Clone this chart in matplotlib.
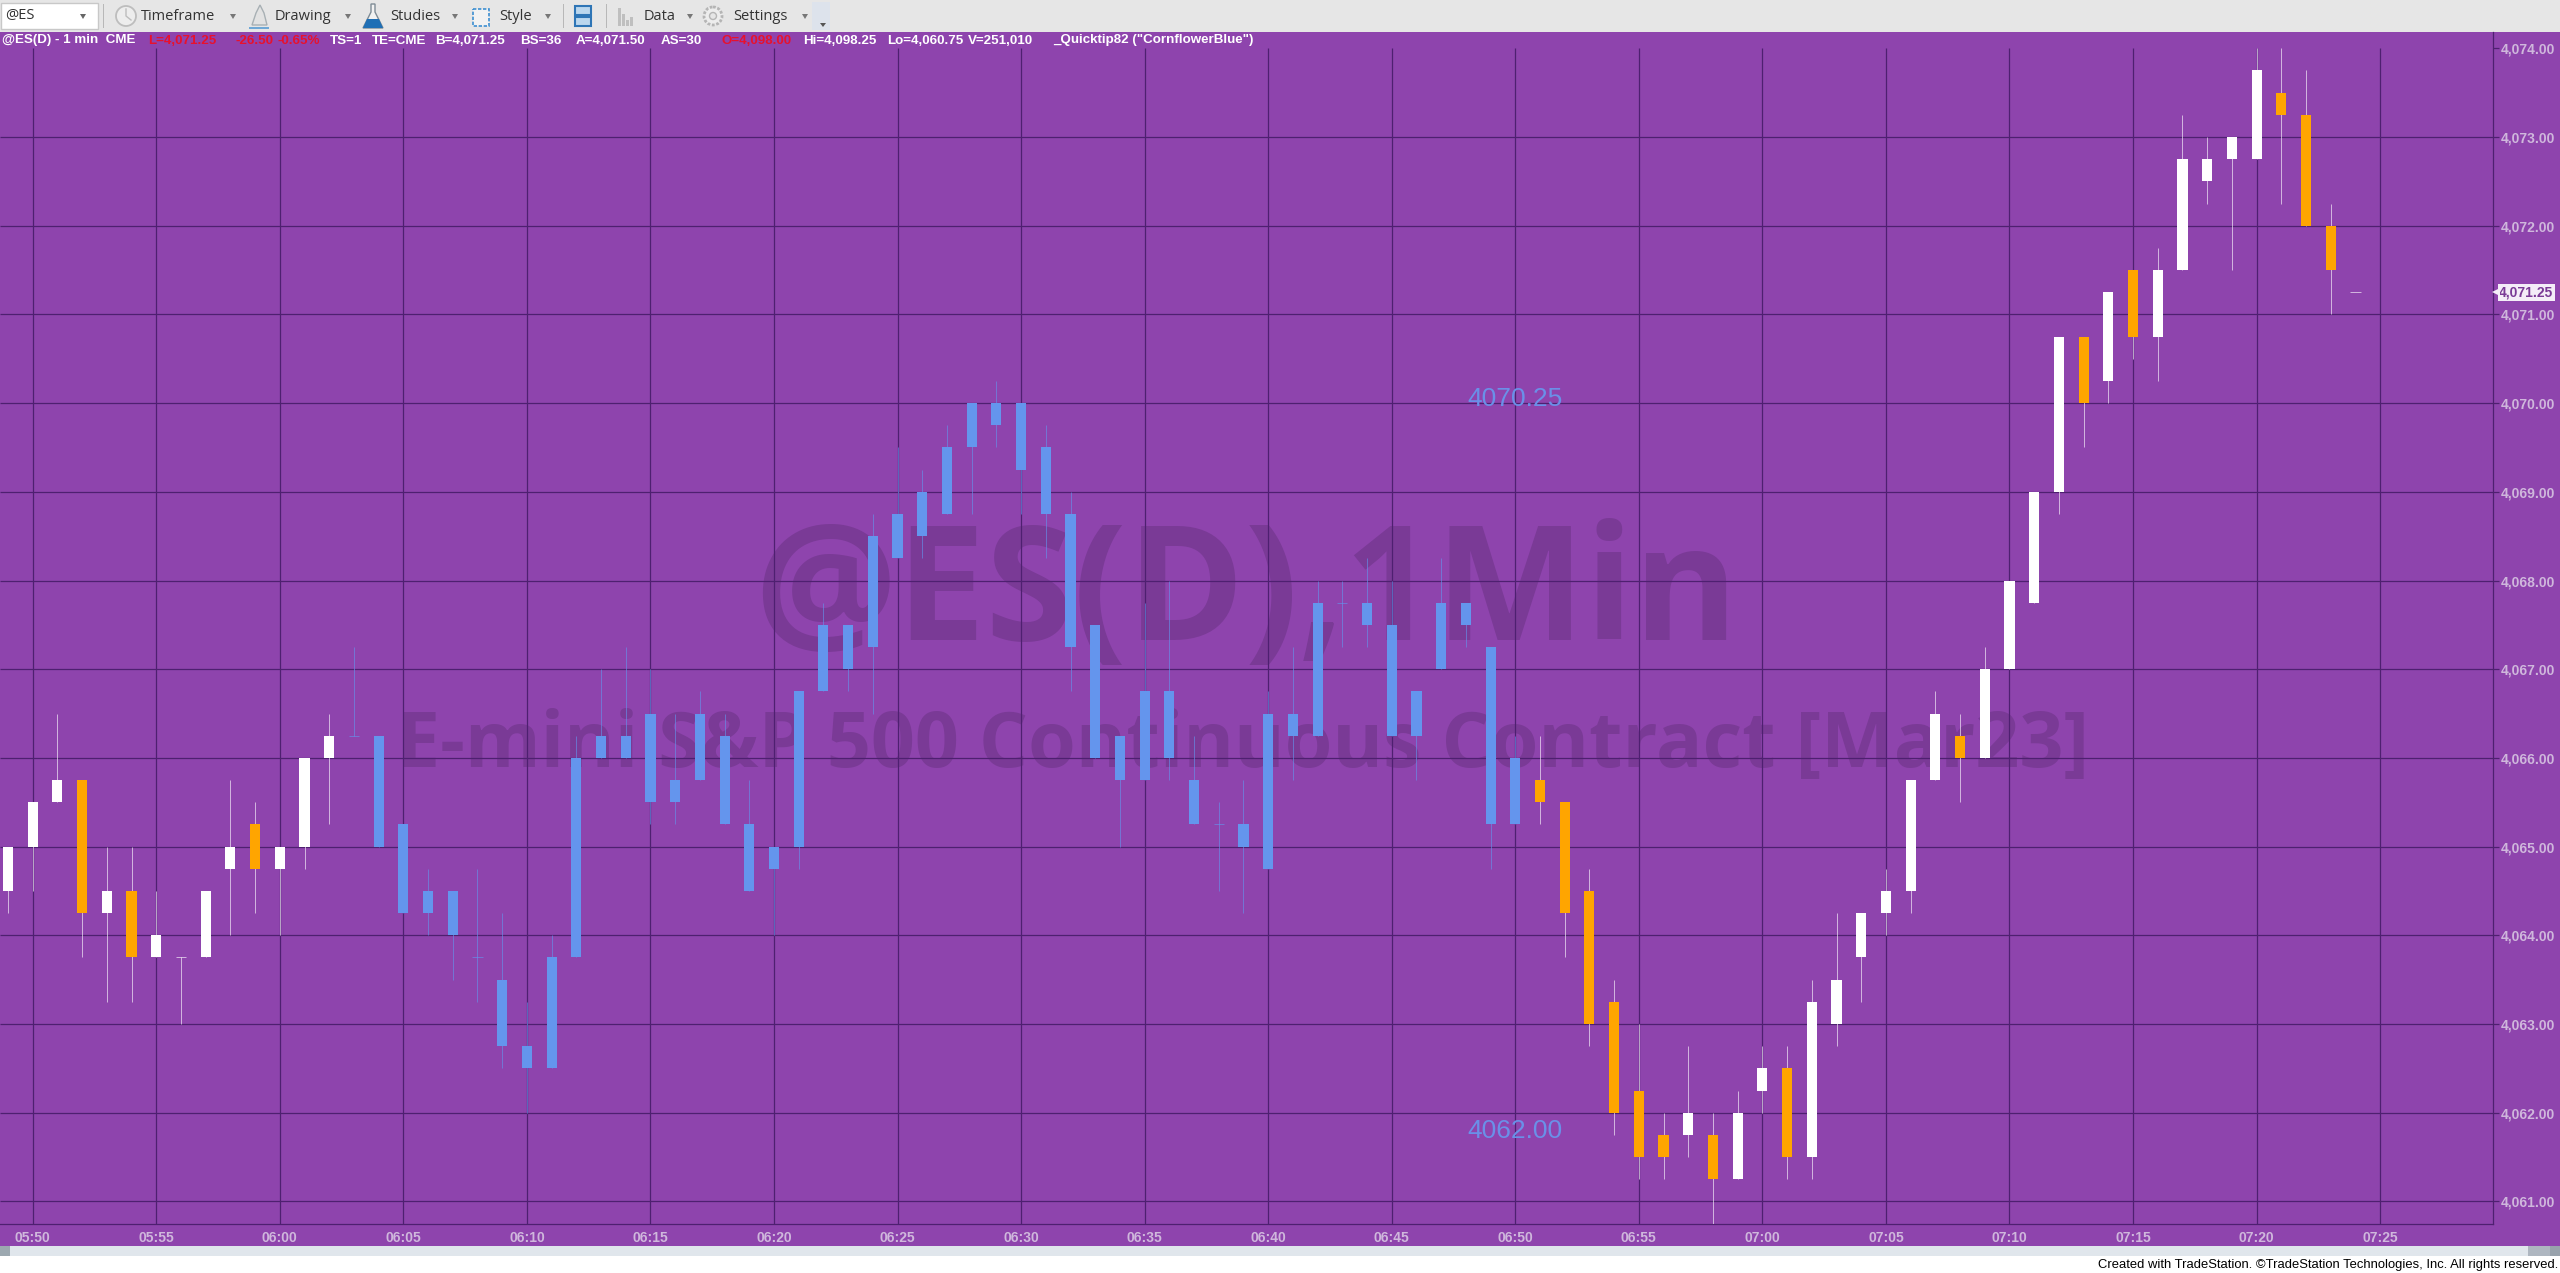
"""
TradeStation style 1 min candlestick chart of @ES(D) with coloured bar segments.

Output:
- Saves the chart to: out.png
"""

import matplotlib

matplotlib.use("Agg")
import matplotlib.pyplot as plt
from matplotlib.patches import Circle, Polygon, Rectangle
from matplotlib.transforms import blended_transform_factory

OUTPUT_PATH = "out.png"
WIDTH, HEIGHT = 2560, 1273

PURPLE = "#8E44AD"
GRID = "#4E2070"
WATERMARK = "#7A3A96"
AXIS_TEXT = "#CFB7DC"
BLUE = "#6495ED"
ORANGE = "#FFA500"
WHITE = "#FFFFFF"

# --- Data: one entry per minute, first bar is 05:49 ---
FIRST_MINUTE = 5 * 60 + 49

BODY_TOP = [
    4065, 4065.5, 4065.75, 4065.75, 4064.5, 4064.5, 4064, 4063.75, 4064.5, 4065, 4065.25,
    4065, 4066, 4066.25, 4066.25, 4066.25, 4065.25, 4064.5, 4064.5, 4063.75, 4063.5,
    4062.75, 4063.75, 4066, 4066.25, 4066.25,
    4066.5, 4065.75, 4066.5, 4066.25, 4065.25, 4065, 4066.75, 4067.5, 4067.5, 4068.5,
    4068.75, 4069, 4069.5, 4070, 4070, 4070, 4069.5, 4068.75, 4067.5, 4066.25,
    4066.75, 4066.75, 4065.75, 4065.25, 4065.25, 4066.5,
    4066.5, 4067.75, 4067.75, 4067.75, 4067.5, 4066.75, 4067.75, 4067.75, 4067.25,
    4066, 4065.75, 4065.5, 4064.5, 4063.25, 4062.25, 4061.75, 4062, 4061.75, 4062,
    4062.5, 4062.5, 4063.25, 4063.5, 4064.25, 4064.5, 4065.75, 4066.5, 4066.25, 4067,
    4068, 4069, 4070.75, 4070.75, 4071.25, 4071.5, 4071.5, 4072.75, 4072.75, 4073,
    4073.75, 4073.5, 4073.25, 4072, 4071.25,
]
BODY_BOTTOM = [
    4064.5, 4065, 4065.5, 4064.25, 4064.25, 4063.75, 4063.75, 4063.75, 4063.75, 4064.75, 4064.75,
    4064.75, 4065, 4066, 4066.25, 4065, 4064.25, 4064.25, 4064, 4063.75, 4062.75,
    4062.5, 4062.5, 4063.75, 4066, 4066,
    4065.5, 4065.5, 4065.75, 4065.25, 4064.5, 4064.75, 4065, 4066.75, 4067, 4067.25,
    4068.25, 4068.5, 4068.75, 4069.5, 4069.75, 4069.25, 4068.75, 4067.25, 4066, 4065.75,
    4065.75, 4066, 4065.25, 4065.25, 4065, 4064.75,
    4066.25, 4066.25, 4067.75, 4067.5, 4066.25, 4066.25, 4067, 4067.5, 4065.25,
    4065.25, 4065.5, 4064.25, 4063, 4062, 4061.5, 4061.5, 4061.75, 4061.25, 4061.25,
    4062.25, 4061.5, 4061.5, 4063, 4063.75, 4064.25, 4064.5, 4065.75, 4066, 4066,
    4067, 4067.75, 4069, 4070, 4070.25, 4070.75, 4070.75, 4071.5, 4072.5, 4072.75,
    4072.75, 4073.25, 4072, 4071.5, 4071.25,
]
HIGHS = [
    4065, 4065.5, 4066.5, 4065.75, 4065, 4065, 4064.5, 4063.75, 4064.5, 4065.75, 4065.5,
    4065, 4066, 4066.5, 4067.25, 4066.25, 4065.25, 4064.75, 4064.5, 4064.75, 4064.25,
    4063.25, 4064, 4066.25, 4067, 4067.25,
    4067, 4066.5, 4066.75, 4066.5, 4065.75, 4065, 4066.75, 4067.75, 4067.5, 4068.75,
    4069.5, 4069.25, 4069.75, 4070, 4070.25, 4070, 4069.75, 4069, 4067.5, 4066.25,
    4067.75, 4068, 4066.25, 4065.5, 4065.75, 4066.75,
    4067.25, 4068, 4068, 4068.25, 4068, 4066.75, 4068.25, 4067.75, 4067.25,
    4066.25, 4066.25, 4065.5, 4064.75, 4063.5, 4063, 4062, 4062.75, 4062, 4062.25,
    4062.75, 4062.75, 4063.5, 4064.25, 4064.25, 4064.75, 4065.75, 4066.75, 4066.5, 4067.25,
    4068, 4069, 4070.75, 4070.75, 4071.25, 4071.5, 4071.75, 4073.25, 4073, 4073,
    4074, 4074, 4073.75, 4072.25, 4071.25,
]
LOWS = [
    4064.25, 4064.5, 4065.5, 4063.75, 4063.25, 4063.25, 4063.75, 4063, 4063.75, 4064, 4064.25,
    4064, 4064.75, 4065.25, 4066.25, 4065, 4064.25, 4064, 4063.5, 4063.25, 4062.5,
    4062, 4062.5, 4063.75, 4066, 4066,
    4065.25, 4065.25, 4065.75, 4065.25, 4064.5, 4064, 4064.75, 4066.75, 4066.75, 4066.5,
    4068.25, 4068.25, 4068.75, 4068.75, 4069.5, 4068.75, 4068.25, 4066.75, 4066, 4065,
    4065.75, 4065.75, 4065.25, 4064.5, 4064.25, 4064.75,
    4065.75, 4066.25, 4067.25, 4067.25, 4066.25, 4065.75, 4067, 4067.25, 4064.75,
    4065.25, 4065.25, 4063.75, 4062.75, 4061.75, 4061.25, 4061.25, 4061.5, 4060.75, 4061.25,
    4062, 4061.25, 4061.25, 4062.75, 4063.25, 4064, 4064.25, 4065.75, 4065.5, 4066,
    4067, 4067.75, 4068.75, 4069.5, 4070, 4070.5, 4070.25, 4071.5, 4072.25, 4071.5,
    4072.75, 4072.25, 4072, 4071, 4071.25,
]
# w = white, o = orange, b = cornflower blue
BAR_KINDS = (
    "wwwowowwwwowww"  # 05:49 - 06:02
    + "b" * 48  # 06:03 - 06:50
    + "oooooo"  # 06:51 - 06:56
    + "wowwowwwwwwowwwwowowwwwwooow"  # 06:57 - 07:24
)

PRICE_TICKS = list(range(4061, 4075))
TIME_TICKS = list(range(5 * 60 + 50, 7 * 60 + 26, 5))
LAST_PRICE = 4071.25
TEXT_LABELS = [("4070.25", 4070.25), ("4062.00", 4062.00)]
TEXT_LABEL_MINUTE = 6 * 60 + 50

HEADER_TEXT = [
    ("@ES(D) - 1 min  CME", 2, "white"),
    ("L=4,071.25", 148, "#E8112D"),
    ("-26.50", 236, "#E8112D"),
    ("-0.65%", 278, "#E8112D"),
    ("TS=1", 330, "white"),
    ("TE=CME", 372, "white"),
    ("B=4,071.25", 435, "white"),
    ("BS=36", 520, "white"),
    ("A=4,071.50", 576, "white"),
    ("AS=30", 661, "white"),
    ("O=4,098.00", 721, "#E8112D"),
    ("Hi=4,098.25", 803, "white"),
    ("Lo=4,060.75", 887, "white"),
    ("V=251,010", 968, "white"),
    ('_Quicktip82 ("CornflowerBlue")', 1053, "white"),
]
TOOLBAR_TEXT = [
    ("Timeframe", 141),
    ("Drawing", 275),
    ("Studies", 390),
    ("Style", 499),
    ("Data", 644),
    ("Settings", 733),
]
TOOLBAR_ARROWS = [233, 348, 455, 548, 690, 805]

# --- Pixel calibration of the plot area ---
PLOT_LEFT, PLOT_RIGHT = 0, 2493
PLOT_TOP, PLOT_BOTTOM = 32, 1224.3
PX_PER_MINUTE = 24.71
PX_PER_POINT = 88.7
REF_MINUTE, REF_MINUTE_X = 350, 32.7
REF_PRICE, REF_PRICE_Y = 4074, 48.3


def time_label(minute: int) -> str:
    return f"{minute // 60:02d}:{minute % 60:02d}"


def draw_toolbar(bg) -> None:
    bg.add_patch(Rectangle((0, 0), WIDTH, 32, color="#E6E6E6", lw=0))
    bg.add_patch(Rectangle((1, 3), 97, 26, facecolor="white", edgecolor="#C8C8C8", lw=1))
    bg.text(5, 16, "@ES", ha="left", va="center", fontsize=10.5, family="Open Sans", color="#333333")
    bg.add_patch(Polygon([(80, 14), (86, 14), (83, 19)], color="#666666", lw=0))
    for x in (103, 563, 606):
        bg.add_patch(Rectangle((x, 4), 1, 24, color="#B8B8B8", lw=0))
    bg.add_patch(Rectangle((812, 2), 18, 28, color="#DDE3EC", lw=0))
    bg.add_patch(Polygon([(820, 23), (826, 23), (823, 27)], color="#555555", lw=0))

    for label, x in TOOLBAR_TEXT:
        bg.text(x, 16, label, ha="left", va="center", fontsize=10.5, family="Open Sans", color="#333333")
    for x in TOOLBAR_ARROWS:
        bg.add_patch(Polygon([(x - 3, 14), (x + 3, 14), (x, 19)], color="#777777", lw=0))

    # Timeframe clock
    bg.add_patch(Circle((126, 16), 10, facecolor="#EDEDED", edgecolor="#BDBDBD", lw=1.3))
    bg.plot([126, 126, 131], [9, 16, 20], color="#BDBDBD", lw=1)
    # Drawing pencil
    bg.add_patch(Polygon([(252, 25), (256, 13), (260, 5), (264, 13), (267, 25)],
                         facecolor="#E2E2E2", edgecolor="#A8B0B4", lw=1))
    bg.add_patch(Rectangle((249, 27), 20, 2, color="#6FA8D6", lw=0))
    # Studies flask
    bg.add_patch(Polygon([(371, 4), (375, 4), (375, 12), (383, 28), (363, 28), (371, 12)],
                         facecolor="#F2F2F2", edgecolor="#7F8C96", lw=1))
    bg.add_patch(Polygon([(367, 19), (379, 19), (383, 28), (363, 28)], color="#1F6FB5", lw=0))
    # Style box
    bg.add_patch(Rectangle((473, 9), 16, 17, facecolor="#F2F2F2", edgecolor="#3D8FD1", lw=1.2, ls=(0, (2, 1))))
    # Layout button
    bg.add_patch(Rectangle((575, 6), 16, 9, facecolor="#BBD7EE", edgecolor="#2E75B6", lw=1.5))
    bg.add_patch(Rectangle((575, 17), 16, 9, facecolor="#BBD7EE", edgecolor="#2E75B6", lw=1.5))
    # Data bars
    for x, h in zip((618, 622, 626, 630), (18, 12, 6, 9)):
        bg.add_patch(Rectangle((x, 26 - h), 3, h, color="#BFBFBF", lw=0))
    # Settings gear
    bg.add_patch(Circle((713, 16), 9, facecolor="#EDEDED", edgecolor="#B5B5B5", lw=2, ls=(0, (1, 0.6))))
    bg.add_patch(Circle((713, 16), 3.5, facecolor="#E6E6E6", edgecolor="#B5B5B5", lw=1))


def draw_chrome(bg) -> None:
    bg.set_xlim(0, WIDTH)
    bg.set_ylim(HEIGHT, 0)
    bg.axis("off")

    # Window areas
    bg.add_patch(Rectangle((0, 32), WIDTH, 1213.7, color=PURPLE, lw=0))
    bg.add_patch(Rectangle((0, 1245.7), WIDTH, 10.3, color="#E0E6EC", lw=0))
    bg.add_patch(Rectangle((0, 1245.7), 10, 10.3, color="#9CA8B0", lw=0))
    bg.add_patch(Rectangle((2528, 1245.7), 22, 10.3, color="#AEB6C0", lw=0))
    bg.add_patch(Rectangle((2550, 1245.7), 10, 10.3, color="#98A2AC", lw=0))
    bg.text(2558, 1265, "Created with TradeStation. \u00a9TradeStation Technologies, Inc. All rights reserved.",
            ha="right", va="center", fontsize=9.4, family="Liberation Sans", color="black")

    draw_toolbar(bg)

    # Status line
    for label, x, color in HEADER_TEXT:
        bg.text(x, 40.5, label, ha="left", va="center", fontsize=9.6,
                family="Liberation Sans", weight="bold", color=color)

    # Watermarks sit under the grid and the bars
    bg.text(1246, 640, "@ES(D),1Min", ha="center", va="baseline", fontsize=114.5,
            family="Open Sans", weight="bold", color=WATERMARK)
    bg.text(1243, 767, "E-mini S&P 500 Continuous Contract [Mar23]", ha="center", va="baseline",
            fontsize=55.5, family="Open Sans", weight="bold", color=WATERMARK)


def draw_bars(ax) -> None:
    body_colors = {"w": WHITE, "o": ORANGE, "b": BLUE}
    wick_colors = {"w": WHITE, "o": WHITE, "b": BLUE}
    for i, kind in enumerate(BAR_KINDS):
        x = FIRST_MINUTE + i
        top, bottom = BODY_TOP[i], BODY_BOTTOM[i]
        wick = wick_colors[kind]
        ax.vlines(x, LOWS[i], HIGHS[i], color=wick, lw=0.72, alpha=0.6, zorder=3)
        if top == bottom:
            # Open equals close: only a short dash
            ax.hlines(top, x - 0.205, x + 0.205, color=wick, lw=0.72, alpha=0.6, zorder=3)
        else:
            ax.bar(x, top - bottom, bottom=bottom, width=0.41, color=body_colors[kind], lw=0, zorder=4)


def main() -> None:
    fig = plt.figure(figsize=(WIDTH / 100, HEIGHT / 100), dpi=100)

    bg = fig.add_axes([0, 0, 1, 1], zorder=0)
    draw_chrome(bg)

    ax = fig.add_axes(
        [
            PLOT_LEFT / WIDTH,
            (HEIGHT - PLOT_BOTTOM) / HEIGHT,
            (PLOT_RIGHT - PLOT_LEFT) / WIDTH,
            (PLOT_BOTTOM - PLOT_TOP) / HEIGHT,
        ],
        zorder=1,
    )
    ax.patch.set_visible(False)

    x_left = REF_MINUTE + (PLOT_LEFT - REF_MINUTE_X) / PX_PER_MINUTE
    x_right = REF_MINUTE + (PLOT_RIGHT - REF_MINUTE_X) / PX_PER_MINUTE
    y_top = REF_PRICE - (PLOT_TOP - REF_PRICE_Y) / PX_PER_POINT
    y_bottom = REF_PRICE - (PLOT_BOTTOM - REF_PRICE_Y) / PX_PER_POINT
    ax.set_xlim(x_left, x_right)
    ax.set_ylim(y_bottom, y_top)

    # Grid: the top price level has only its tick, verticals stop at that level
    ax.hlines(PRICE_TICKS[:-1], x_left, x_right, color=GRID, lw=0.9, zorder=2)
    ax.vlines(TIME_TICKS, y_bottom, PRICE_TICKS[-1], color=GRID, lw=0.9, zorder=2)

    draw_bars(ax)

    # Axes
    for side in ("top", "left"):
        ax.spines[side].set_visible(False)
    for side in ("right", "bottom"):
        ax.spines[side].set_color(GRID)
        ax.spines[side].set_linewidth(0.9)

    ax.yaxis.tick_right()
    ax.set_yticks(PRICE_TICKS)
    ax.set_yticklabels([f"{p:,.2f}" for p in PRICE_TICKS], family="Liberation Sans", weight="bold")
    ax.tick_params(axis="y", length=4, width=0.9, color=GRID, labelcolor=AXIS_TEXT, labelsize=10, pad=1.5)
    ax.set_xticks(TIME_TICKS)
    ax.set_xticklabels([time_label(m) for m in TIME_TICKS], family="Liberation Sans", weight="bold")
    ax.tick_params(axis="x", length=0, labelcolor=AXIS_TEXT, labelsize=10, pad=5)

    # Text drawn by the study hangs just below its price
    for label, price in TEXT_LABELS:
        ax.annotate(label, (TEXT_LABEL_MINUTE, price), xytext=(0, -13), textcoords="offset points",
                    ha="center", va="center", color="#6A90E8", fontsize=19,
                    family="Liberation Sans", zorder=5)

    # Last price flag on the axis
    flag = blended_transform_factory(ax.transAxes, ax.transData)
    ax.text(1.0025, LAST_PRICE, f"{LAST_PRICE:,.2f}", transform=flag, ha="left", va="center",
            fontsize=10, family="Liberation Sans", weight="bold", color="#7A3A96", clip_on=False, zorder=6,
            bbox=dict(boxstyle="square,pad=0.12", facecolor="#F4EDF8", edgecolor="none"))
    ax.plot([1.0012], [LAST_PRICE], transform=flag, marker="<", ms=6, color="#F4EDF8", mew=0,
            clip_on=False, zorder=6)

    fig.savefig(OUTPUT_PATH, dpi=100, facecolor="white")
    print(f"Saved plot to: {OUTPUT_PATH}")


if __name__ == "__main__":
    main()
